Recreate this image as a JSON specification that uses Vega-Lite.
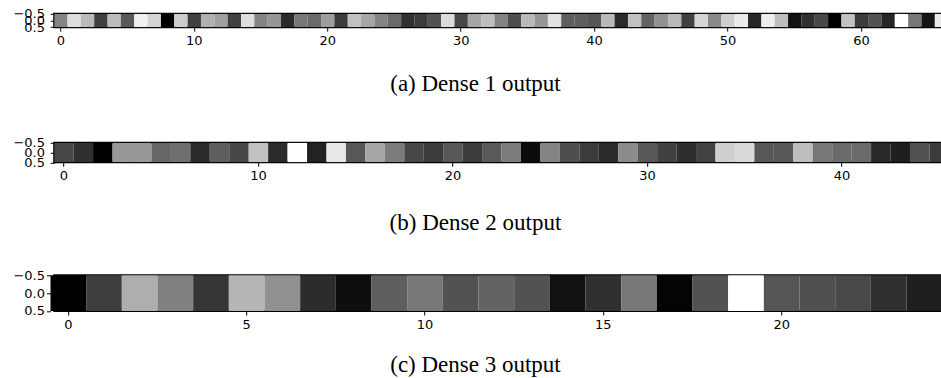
{
  "$schema": "https://vega.github.io/schema/vega-lite/v6.json",
  "background": "white",
  "padding": {"left": 11.2, "top": 6.8, "right": 0, "bottom": 0},
  "config": {
    "view": {"stroke": "black", "strokeWidth": 2},
    "axis": {
      "labelFont": "DejaVu Sans",
      "labelFontSize": 13,
      "labelColor": "black",
      "tickColor": "black",
      "tickSize": 4,
      "tickWidth": 1,
      "grid": false,
      "domain": false,
      "title": null
    },
    "axisX": {"labelPadding": 3.5},
    "axisY": {"labelPadding": 5.7},
    "title": {
      "font": "Liberation Serif",
      "fontSize": 23,
      "fontWeight": "normal",
      "color": "black",
      "orient": "bottom",
      "anchor": "middle"
    }
  },
  "datasets": {
    "dense1": [
      {"unit": 0, "value": 0.55}, {"unit": 1, "value": 0.88}, {"unit": 2, "value": 0.75}, {"unit": 3, "value": 0.27},
      {"unit": 4, "value": 0.76}, {"unit": 5, "value": 0.38}, {"unit": 6, "value": 0.95}, {"unit": 7, "value": 0.85},
      {"unit": 8, "value": 0.0}, {"unit": 9, "value": 0.82}, {"unit": 10, "value": 0.27}, {"unit": 11, "value": 0.72},
      {"unit": 12, "value": 0.66}, {"unit": 13, "value": 0.27}, {"unit": 14, "value": 0.88}, {"unit": 15, "value": 0.55},
      {"unit": 16, "value": 0.62}, {"unit": 17, "value": 0.17}, {"unit": 18, "value": 0.5}, {"unit": 19, "value": 0.45},
      {"unit": 20, "value": 0.65}, {"unit": 21, "value": 0.25}, {"unit": 22, "value": 0.78}, {"unit": 23, "value": 0.68},
      {"unit": 24, "value": 0.55}, {"unit": 25, "value": 0.45}, {"unit": 26, "value": 0.2}, {"unit": 27, "value": 0.25},
      {"unit": 28, "value": 0.35}, {"unit": 29, "value": 0.87}, {"unit": 30, "value": 0.3}, {"unit": 31, "value": 0.68},
      {"unit": 32, "value": 0.77}, {"unit": 33, "value": 0.55}, {"unit": 34, "value": 0.33}, {"unit": 35, "value": 0.75},
      {"unit": 36, "value": 0.62}, {"unit": 37, "value": 0.9}, {"unit": 38, "value": 0.4}, {"unit": 39, "value": 0.4},
      {"unit": 40, "value": 0.36}, {"unit": 41, "value": 0.75}, {"unit": 42, "value": 0.17}, {"unit": 43, "value": 0.78},
      {"unit": 44, "value": 0.42}, {"unit": 45, "value": 0.6}, {"unit": 46, "value": 0.75}, {"unit": 47, "value": 0.27},
      {"unit": 48, "value": 0.85}, {"unit": 49, "value": 0.57}, {"unit": 50, "value": 0.83}, {"unit": 51, "value": 0.93},
      {"unit": 52, "value": 0.15}, {"unit": 53, "value": 0.94}, {"unit": 54, "value": 0.77}, {"unit": 55, "value": 0.05},
      {"unit": 56, "value": 0.2}, {"unit": 57, "value": 0.3}, {"unit": 58, "value": 0.0}, {"unit": 59, "value": 0.78},
      {"unit": 60, "value": 0.25}, {"unit": 61, "value": 0.35}, {"unit": 62, "value": 0.15}, {"unit": 63, "value": 1.0},
      {"unit": 64, "value": 0.5}, {"unit": 65, "value": 0.07}, {"unit": 66, "value": 0.93}
    ],
    "dense2": [
      {"unit": 0, "value": 0.3}, {"unit": 1, "value": 0.2}, {"unit": 2, "value": 0.0}, {"unit": 3, "value": 0.63},
      {"unit": 4, "value": 0.63}, {"unit": 5, "value": 0.43}, {"unit": 6, "value": 0.47}, {"unit": 7, "value": 0.17},
      {"unit": 8, "value": 0.4}, {"unit": 9, "value": 0.3}, {"unit": 10, "value": 0.78}, {"unit": 11, "value": 0.17},
      {"unit": 12, "value": 1.0}, {"unit": 13, "value": 0.13}, {"unit": 14, "value": 0.92}, {"unit": 15, "value": 0.37},
      {"unit": 16, "value": 0.68}, {"unit": 17, "value": 0.52}, {"unit": 18, "value": 0.3}, {"unit": 19, "value": 0.25},
      {"unit": 20, "value": 0.37}, {"unit": 21, "value": 0.25}, {"unit": 22, "value": 0.38}, {"unit": 23, "value": 0.52},
      {"unit": 24, "value": 0.03}, {"unit": 25, "value": 0.55}, {"unit": 26, "value": 0.33}, {"unit": 27, "value": 0.25},
      {"unit": 28, "value": 0.17}, {"unit": 29, "value": 0.58}, {"unit": 30, "value": 0.37}, {"unit": 31, "value": 0.27},
      {"unit": 32, "value": 0.19}, {"unit": 33, "value": 0.28}, {"unit": 34, "value": 0.83}, {"unit": 35, "value": 0.87},
      {"unit": 36, "value": 0.37}, {"unit": 37, "value": 0.37}, {"unit": 38, "value": 0.77}, {"unit": 39, "value": 0.5},
      {"unit": 40, "value": 0.45}, {"unit": 41, "value": 0.45}, {"unit": 42, "value": 0.16}, {"unit": 43, "value": 0.12},
      {"unit": 44, "value": 0.35}, {"unit": 45, "value": 0.25}
    ],
    "dense3": [
      {"unit": 0, "value": 0.0}, {"unit": 1, "value": 0.26}, {"unit": 2, "value": 0.71}, {"unit": 3, "value": 0.54},
      {"unit": 4, "value": 0.22}, {"unit": 5, "value": 0.74}, {"unit": 6, "value": 0.6}, {"unit": 7, "value": 0.18},
      {"unit": 8, "value": 0.04}, {"unit": 9, "value": 0.4}, {"unit": 10, "value": 0.5}, {"unit": 11, "value": 0.35},
      {"unit": 12, "value": 0.42}, {"unit": 13, "value": 0.35}, {"unit": 14, "value": 0.05}, {"unit": 15, "value": 0.2},
      {"unit": 16, "value": 0.5}, {"unit": 17, "value": 0.01}, {"unit": 18, "value": 0.35}, {"unit": 19, "value": 1.0},
      {"unit": 20, "value": 0.36}, {"unit": 21, "value": 0.34}, {"unit": 22, "value": 0.31}, {"unit": 23, "value": 0.2},
      {"unit": 24, "value": 0.12}
    ]
  },
  "spacing": 32.5,
  "vconcat": [
    {
      "spacing": 38,
      "vconcat": [
        {
          "data": {"name": "dense1"},
          "width": 888.5,
          "height": 13.4,
          "title": {"text": "(a) Dense 1 output", "dx": -23, "offset": 25.5},
          "mark": {"type": "rect", "clip": true},
          "encoding": {
            "x": {
              "field": "unit", "type": "ordinal",
              "scale": {"range": [0, 894], "paddingInner": 0, "paddingOuter": 0},
              "axis": {"values": [0, 10, 20, 30, 40, 50, 60], "labelAngle": 0}
            },
            "y": {
              "datum": -0.5, "type": "quantitative",
              "scale": {"domain": [-0.5, 0.5], "reverse": true, "nice": false, "zero": false},
              "axis": {"values": [-0.5, 0, 0.5], "format": ".1f", "labelOverlap": false, "labelFlush": false}
            },
            "y2": {"datum": 0.5},
            "color": {
              "field": "value", "type": "quantitative",
              "scale": {"domain": [0, 1], "range": ["#000000", "#ffffff"]},
              "legend": null
            }
          }
        },
        {
          "data": {"name": "dense2"},
          "width": 888.5,
          "height": 19.5,
          "title": {"text": "(b) Dense 2 output", "dx": -23, "offset": 29},
          "mark": {"type": "rect", "clip": true},
          "encoding": {
            "x": {
              "field": "unit", "type": "ordinal",
              "scale": {"range": [0, 894.7], "paddingInner": 0, "paddingOuter": 0},
              "axis": {"values": [0, 10, 20, 30, 40], "labelAngle": 0}
            },
            "y": {
              "datum": -0.5, "type": "quantitative",
              "scale": {"domain": [-0.5, 0.5], "reverse": true, "nice": false, "zero": false},
              "axis": {"values": [-0.5, 0, 0.5], "format": ".1f", "labelOverlap": false, "labelFlush": false}
            },
            "y2": {"datum": 0.5},
            "color": {
              "field": "value", "type": "quantitative",
              "scale": {"domain": [0, 1], "range": ["#000000", "#ffffff"]},
              "legend": null
            }
          }
        }
      ]
    },
    {
      "data": {"name": "dense3"},
      "width": 888.5,
      "height": 35.7,
      "title": {"text": "(c) Dense 3 output", "dx": -23, "offset": 23},
      "mark": {"type": "rect"},
      "encoding": {
        "x": {
          "field": "unit", "type": "ordinal",
          "scale": {"range": [-3.7, 888], "paddingInner": 0, "paddingOuter": 0},
          "axis": {"values": [0, 5, 10, 15, 20], "labelAngle": 0}
        },
        "y": {
          "datum": -0.5, "type": "quantitative",
          "scale": {"domain": [-0.5, 0.5], "reverse": true, "nice": false, "zero": false},
          "axis": {"values": [-0.5, 0, 0.5], "format": ".1f", "labelOverlap": false, "labelFlush": false, "offset": 3.7, "labelPadding": 2}
        },
        "y2": {"datum": 0.5},
        "color": {
          "field": "value", "type": "quantitative",
          "scale": {"domain": [0, 1], "range": ["#000000", "#ffffff"]},
          "legend": null
        }
      }
    }
  ]
}
